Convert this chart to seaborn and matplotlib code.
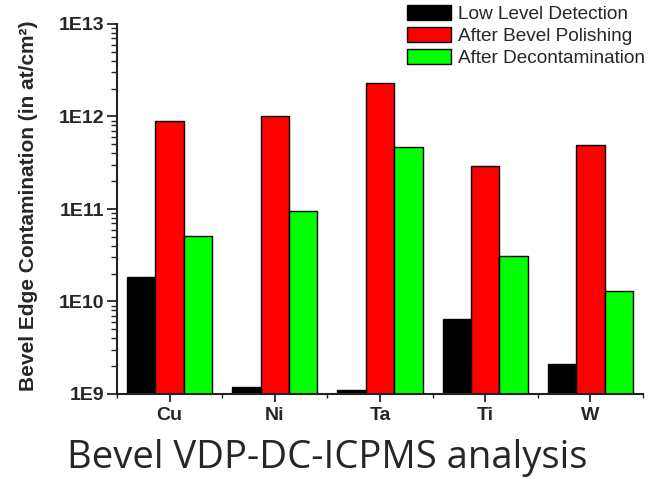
import numpy as np
import pandas as pd
import matplotlib
matplotlib.use("Agg")
import matplotlib.pyplot as plt
from matplotlib.ticker import FixedLocator, FixedFormatter, LogLocator, NullFormatter, MultipleLocator
import seaborn as sns

# Bevel edge contamination per element (at/cm²)
elements = ["Cu", "Ni", "Ta", "Ti", "W"]
series_names = ["Low Level Detection", "After Bevel Polishing", "After Decontamination"]
low_level = [1.83e10, 1.2e9, 1.1e9, 6.4e9, 2.1e9]
after_polishing = [9.0e11, 1.0e12, 2.32e12, 2.9e11, 4.9e11]
after_decontamination = [5.1e10, 9.4e10, 4.68e11, 3.08e10, 1.3e10]
ytick_values = [1e9, 1e10, 1e11, 1e12, 1e13]
ytick_labels = ["1E9", "1E10", "1E11", "1E12", "1E13"]

df = pd.DataFrame({
    "element": elements * 3,
    "series": [series_names[0]] * 5 + [series_names[1]] * 5 + [series_names[2]] * 5,
    "value": low_level + after_polishing + after_decontamination,
})

sns.set_style("ticks")
plt.rcParams["font.family"] = ["Liberation Sans", "DejaVu Sans"]

fig = plt.figure(figsize=(6.66, 4.79), dpi=100)
ax = fig.add_axes([117 / 666, 85 / 479, 526 / 666, 370 / 479])

palette = ["#000000", "#ff0000", "#00ff00"]
sns.barplot(data=df, x="element", y="value", hue="series", order=elements,
            hue_order=series_names, palette=palette, saturation=1,
            width=0.81, edgecolor="black", linewidth=1.0, ax=ax, log_scale=(False, True))

ax.set_yscale("log")
ax.set_ylim(1e9, 1e13)
ax.set_xlim(-0.5, 4.5)

ax.yaxis.set_major_locator(FixedLocator(ytick_values))
ax.yaxis.set_major_formatter(FixedFormatter(ytick_labels))
ax.yaxis.set_minor_locator(LogLocator(base=10, subs=np.arange(2, 10)))
ax.yaxis.set_minor_formatter(NullFormatter())
ax.xaxis.set_minor_locator(MultipleLocator(1, offset=0.5))

ax.tick_params(axis="y", which="major", length=7, width=1.3, direction="out", pad=2, labelsize=14)
ax.tick_params(axis="y", which="minor", length=4, width=1.0, direction="out")
ax.tick_params(axis="x", which="major", length=6, width=1.3, direction="out", pad=3, labelsize=14)
ax.tick_params(axis="x", which="minor", length=3, width=1.0, direction="out")
for lab in ax.get_xticklabels() + ax.get_yticklabels():
    lab.set_fontweight("bold")

for side in ["top", "right"]:
    ax.spines[side].set_visible(False)
for side in ["left", "bottom"]:
    ax.spines[side].set_linewidth(1.5)
    ax.spines[side].set_color("#222222")

ax.set_xlabel("")
ax.set_ylabel("Bevel Edge Contamination (in at/cm²)", fontsize=15, fontweight="bold")
ax.yaxis.set_label_coords(-0.15, 0.51)

handles, labels = ax.get_legend_handles_labels()
ax.legend(handles, labels, loc="upper left", bbox_to_anchor=(407 / 666, 1 - 5 / 479),
          bbox_transform=fig.transFigure, frameon=False, fontsize=13.7,
          handlelength=2.3, handleheight=0.85, handletextpad=0.37,
          labelspacing=0.2, borderpad=0, borderaxespad=0)

fig.text(0.491, 11 / 479, "Bevel VDP-DC-ICPMS analysis", ha="center", va="baseline",
         fontsize=27.5, family=["Open Sans", "DejaVu Sans"])

fig.savefig("out.png", dpi=100)
